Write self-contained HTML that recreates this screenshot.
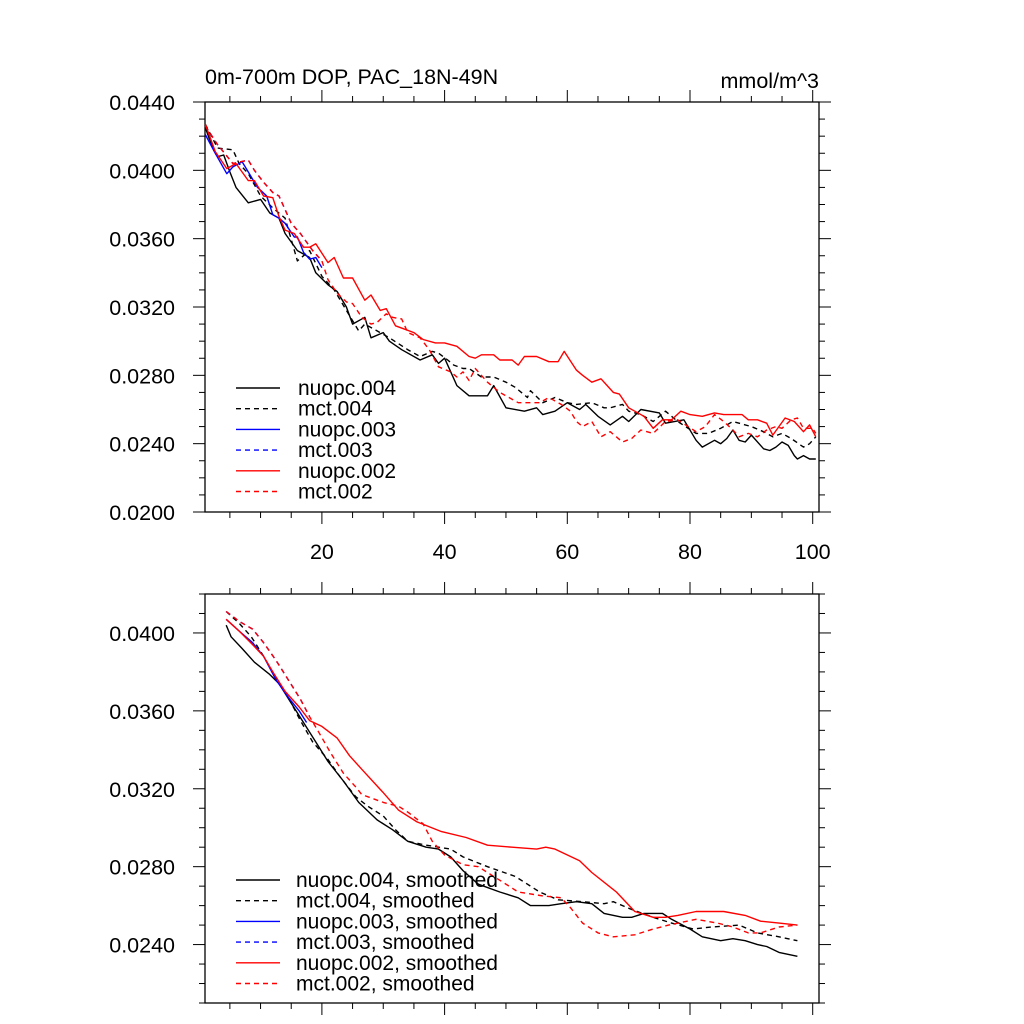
<!DOCTYPE html>
<html><head><meta charset="utf-8"><style>
html,body{margin:0;padding:0;background:#fff;}
svg{display:block;font-family:"Liberation Sans",sans-serif;}
</style></head><body>
<svg id="chart" width="1024" height="1024" viewBox="0 0 1024 1024" xmlns="http://www.w3.org/2000/svg">
<text x="205" y="84" font-size="21.5">0m-700m DOP, PAC_18N-49N</text>
<text x="819" y="88" font-size="21.5" text-anchor="end">mmol/m^3</text>
</svg>
<script>
// ---- top panel data (year, value) ----
const n004Y=[1,2,3,4,5,6,8,10,11.5,13,14,16,18,19,21,22.5,24,25,27,28,30,31,33,36,38,39,40,42,44,47,48,50,53,55,56,58,60,62,63,65,67,69,70,72,75,76,79,81,82,84,85,86,87,88,89,90,92,93,94,95,96,97,97.5,98.5,99.5,100.5];
const n004V=[0.0425,0.0415,0.0408,0.0409,0.0399,0.0390,0.0381,0.0383,0.0375,0.0372,0.0363,0.0353,0.0349,0.0340,0.0333,0.0329,0.0320,0.0310,0.0314,0.0302,0.0305,0.0300,0.0295,0.0289,0.0292,0.0287,0.0290,0.0274,0.0268,0.0268,0.0274,0.0261,0.0259,0.0261,0.0257,0.0259,0.0264,0.0260,0.0263,0.0256,0.0251,0.0256,0.0253,0.0260,0.0258,0.0252,0.0254,0.0242,0.0238,0.0242,0.0240,0.0243,0.0248,0.0242,0.0241,0.0245,0.0237,0.0236,0.0238,0.0241,0.0239,0.0233,0.0231,0.0233,0.0231,0.0231];
const m004Y=[1,3,5.5,6.5,8,10,12,14,16,18,20,22,24,25,26,27,29,31,34,36,38,39,40.5,41.5,43,44,46,48,50,51.5,53.5,54,56,58,60,61.5,64,66,67,69,70,72,74,76,77,78,81,83,85,87,88,90,92,93.5,95,96.5,98.5,99.5,100.5];
const m004V=[0.0427,0.0413,0.0412,0.0404,0.0398,0.0385,0.0378,0.0372,0.0347,0.0353,0.0338,0.0330,0.0318,0.0312,0.0306,0.0310,0.0306,0.0302,0.0295,0.0291,0.0294,0.0293,0.0289,0.0286,0.0284,0.0284,0.0279,0.0279,0.0276,0.0273,0.0267,0.0271,0.0264,0.0267,0.0264,0.0263,0.0264,0.0261,0.0261,0.0263,0.0259,0.0257,0.0253,0.0259,0.0256,0.0253,0.0246,0.0246,0.0249,0.0253,0.0252,0.0250,0.0247,0.0244,0.0246,0.0243,0.0238,0.0240,0.0244];
const n003Y=[1,2.6,4.5,5.5,7,8,9.5,11,12,13,14,15.5,16,17,18,19,20];
const n003V=[0.0421,0.0410,0.0398,0.0402,0.0405,0.0399,0.0390,0.0385,0.0374,0.0372,0.0369,0.0361,0.0361,0.0352,0.0348,0.0349,0.0343];
const n002Y=[1,2.6,4.5,6,7,8,9,10.5,12,13,14,15.5,17,18,19,21,22,23.5,25,27,28,29.5,30.5,32,33.5,35,36.5,38.5,40,42,44,45,46,48,49,51,52,53,55,57,58.5,59.5,61.5,62.5,64,65.5,67.5,68.5,70,71,72.5,74,75.5,77,78.5,80,82,84,85.5,87,88.5,89.5,91,92.5,93.5,95.5,97,98.5,99.5,100.5];
const n002V=[0.0427,0.0411,0.0401,0.0404,0.0399,0.0394,0.0394,0.0385,0.0384,0.0373,0.0365,0.0363,0.0355,0.0355,0.0357,0.0346,0.0349,0.0337,0.0337,0.0324,0.0327,0.0318,0.0319,0.0309,0.0307,0.0305,0.0301,0.0299,0.0299,0.0297,0.0291,0.0290,0.0292,0.0292,0.0289,0.0289,0.0286,0.0291,0.0291,0.0288,0.0288,0.0294,0.0283,0.0280,0.0276,0.0278,0.0270,0.0269,0.0261,0.0259,0.0256,0.0249,0.0254,0.0254,0.0259,0.0257,0.0256,0.0258,0.0257,0.0257,0.0257,0.0254,0.0254,0.0252,0.0245,0.0255,0.0253,0.0247,0.0251,0.0244];
const m002Y=[1,3,5.5,8,9,10.5,12,13,14,15,16.5,17.5,18.5,20,21,22.5,24,25,26.5,28,29,30.5,31.5,33,34,36,37.5,39,41,42,43,44,45,47,49,50.5,52,53.5,55.5,57,59,60.5,61.5,62.5,64,65.5,67,69,70.5,72,74,76,78,81,82.5,84,85.5,87,88,89.5,91,92.5,94,95,96.5,97.5,98.5,100,100.5];
const m002V=[0.0426,0.0415,0.0404,0.0406,0.0400,0.0393,0.0387,0.0385,0.0377,0.0369,0.0363,0.0358,0.0353,0.0347,0.0336,0.0328,0.0323,0.0322,0.0314,0.0310,0.0311,0.0316,0.0314,0.0313,0.0305,0.0302,0.0295,0.0285,0.0282,0.0279,0.0282,0.0277,0.0284,0.0276,0.0270,0.0267,0.0264,0.0264,0.0264,0.0267,0.0263,0.0259,0.0253,0.0250,0.0253,0.0244,0.0247,0.0241,0.0243,0.0248,0.0246,0.0253,0.0254,0.0247,0.0250,0.0257,0.0253,0.0248,0.0244,0.0246,0.0244,0.0248,0.0250,0.0249,0.0254,0.0255,0.0249,0.0249,0.0246];
const m003Y=m002Y.filter(y=>y<=20);
const m003V=m002V.slice(0,m003Y.length);
// ---- bottom panel data (smoothed) ----
const sn004Y=[4.4,5.2,7,9,11.4,13,15,17,19,21,23.5,26,29,31.5,34,37,39,41,43,45.5,49,52,54,57,59,61.5,64,66,69,70.5,72.5,75.5,77,80,82,85,87,89,91,92.5,94.5,97.5];
const sn004V=[0.0404,0.0398,0.0392,0.0385,0.0379,0.0374,0.0364,0.0354,0.0344,0.0334,0.0324,0.0313,0.0304,0.0299,0.0293,0.0290,0.0289,0.0285,0.0278,0.0271,0.0267,0.0264,0.0260,0.0260,0.0261,0.0262,0.0261,0.0256,0.0254,0.0254,0.0256,0.0256,0.0253,0.0248,0.0244,0.0242,0.0243,0.0242,0.0240,0.0239,0.0236,0.0234];
const sm004Y=[4.4,6.5,8.5,10.5,12.5,14.5,16.5,18.5,21,23,25.5,27.5,30,32,34,37,41,43,47,51.5,55.5,58.5,62.5,66,67.5,70.5,74,77,80.5,83.5,88,91,94.5,97.5];
const sm004V=[0.0411,0.0405,0.0398,0.0388,0.0377,0.0367,0.0355,0.0344,0.0335,0.0326,0.0316,0.0311,0.0306,0.0299,0.0293,0.0291,0.0289,0.0285,0.0280,0.0275,0.0267,0.0263,0.0262,0.0261,0.0262,0.0258,0.0254,0.0251,0.0248,0.0249,0.0250,0.0246,0.0244,0.0242];
const sn003Y=[4.4,6.5,8.7,10.5,12.5,14.5,16.3,17.5];
const sn003V=[0.0407,0.0401,0.0395,0.0388,0.0376,0.0367,0.0360,0.0354];
const sn002Y=[4.4,6.5,8.7,10.5,12,14,16.3,18,20,22.5,24.5,26.5,30,32.5,35.5,39.5,43.5,47,51,55,56.5,58,62,64,68,71,74,76,78,81,85.5,89,91.5,94.5,97.5];
const sn002V=[0.0407,0.0401,0.0394,0.0388,0.0380,0.0370,0.0362,0.0355,0.0352,0.0346,0.0337,0.0330,0.0318,0.0309,0.0303,0.0298,0.0295,0.0291,0.0290,0.0289,0.0290,0.0289,0.0283,0.0277,0.0267,0.0257,0.0254,0.0254,0.0255,0.0257,0.0257,0.0255,0.0252,0.0251,0.0250];
const sm002Y=[4.4,6.5,8.7,10.5,12.5,14.5,16.5,18,19.5,21.5,23.5,25.5,26.5,30,32.5,34,36.5,38,40,43,45.5,49.5,52,56,59,60.5,62.5,65,67.5,71,74,76.5,81,84.5,87,89.5,91.5,94.5,97.5];
const sm002V=[0.0411,0.0406,0.0402,0.0395,0.0386,0.0376,0.0366,0.0357,0.0349,0.0338,0.0328,0.0321,0.0317,0.0313,0.0311,0.0308,0.0302,0.0293,0.0286,0.0281,0.0280,0.0272,0.0267,0.0265,0.0264,0.0259,0.0251,0.0246,0.0244,0.0245,0.0248,0.0250,0.0253,0.0251,0.0249,0.0246,0.0246,0.0249,0.0250];
const sm003Y=sm002Y.filter(y=>y<=18);
const sm003V=sm002V.slice(0,sm003Y.length);
// ---- ticks ----
const topYTicks=[0.0200,0.0240,0.0280,0.0320,0.0360,0.0400,0.0440];
const botYTicks=[0.0240,0.0280,0.0320,0.0360,0.0400];
const xTicks=[20,40,60,80,100];
const topLegend=['nuopc.004','mct.004','nuopc.003','mct.003','nuopc.002','mct.002'];
const botLegend=['nuopc.004, smoothed','mct.004, smoothed','nuopc.003, smoothed','mct.003, smoothed','nuopc.002, smoothed','mct.002, smoothed'];

const NS='http://www.w3.org/2000/svg';
const svg=document.getElementById('chart');
function mk(tag,attrs){const e=document.createElementNS(NS,tag);for(const k in attrs)e.setAttribute(k,attrs[k]);svg.appendChild(e);return e;}
const L=205,R=819;
function xs(v){return 812.7+(v-100)*6.135;}
const panels=[
 {top:102,bot:512,min:0.020,max:0.044,yt:topYTicks,label:true,name:'top'},
 {top:594,bot:1003,min:0.021,max:0.042,yt:botYTicks,label:false,name:'bottom'}];
panels.forEach(p=>{
 p.ys=v=>p.bot-(v-p.min)/(p.max-p.min)*(p.bot-p.top);
 const fr=mk('rect',{x:L,y:p.top,width:R-L,height:p.bot-p.top,fill:'none',stroke:'#000','stroke-width':1.3});
 
 
 for(let v=5;v<=100;v+=5){
  const X=xs(v),len=(v%20===0)?12:6;
  [[p.bot,p.bot+len],[p.top,p.top-len]].forEach(a=>{
   const t=mk('line',{x1:X,x2:X,y1:a[0],y2:a[1],stroke:'#000','stroke-width':1});
   
   
  });
 }
 for(let k=Math.ceil(p.min*1000-1e-6);k<=Math.floor(p.max*1000+1e-6);k++){
  const v=k/1000,Y=p.ys(v),len=(k%4===0)?12:6;
  [[L,L-len],[R,R+len]].forEach(a=>{
   const t=mk('line',{x1:a[0],x2:a[1],y1:Y,y2:Y,stroke:'#000','stroke-width':1});
   
   
  });
 }
 p.yt.forEach(v=>{
  const t=mk('text',{x:175,y:p.ys(v)+8,'font-size':21.5,'text-anchor':'end'});
  t.textContent=v.toFixed(4);
  
  
 });
 if(p.label) xTicks.forEach(v=>{
  const t=mk('text',{x:xs(v),y:p.bot+47,'font-size':21.5,'text-anchor':'middle'});
  t.textContent=v;
  
  
 });
});
function series(p,X,V,color,dash,name){
 const pts=X.map((x,i)=>xs(x).toFixed(1)+','+p.ys(V[i]).toFixed(1)).join(' ');
 const a={points:pts,fill:'none',stroke:color,'stroke-width':1.4,'stroke-linejoin':'round'};
 if(dash)a['stroke-dasharray']='5,4';
 const e=mk('polyline',a);
 
 
}
const T=panels[0],B=panels[1];
series(T,n004Y,n004V,'#000',false,'series-nuopc-004');
series(T,m004Y,m004V,'#000',true,'series-mct-004');
series(T,n003Y,n003V,'#00f',false,'series-nuopc-003');
series(T,m003Y,m003V,'#00f',true,'series-mct-003');
series(T,n002Y,n002V,'#f00',false,'series-nuopc-002');
series(T,m002Y,m002V,'#f00',true,'series-mct-002');
series(B,sn004Y,sn004V,'#000',false,'series-nuopc-004-smoothed');
series(B,sm004Y,sm004V,'#000',true,'series-mct-004-smoothed');
series(B,sn003Y,sn003V,'#00f',false,'series-nuopc-003-smoothed');
series(B,sm003Y,sm003V,'#00f',true,'series-mct-003-smoothed');
series(B,sn002Y,sn002V,'#f00',false,'series-nuopc-002-smoothed');
series(B,sm002Y,sm002V,'#f00',true,'series-mct-002-smoothed');
const cols=['#000','#000','#00f','#00f','#f00','#f00'];
function legend(labels,y0,dy,tx){
 labels.forEach((s,i)=>{
  const y=y0+i*dy;
  const a={x1:236,x2:280,y1:y,y2:y,stroke:cols[i],'stroke-width':1.4};
  if(i%2)a['stroke-dasharray']='5,4';
  const l=mk('line',a);
  
  
  const t=mk('text',{x:tx,y:y+7,'font-size':21});
  t.textContent=s;
  
  
 });
}
legend(topLegend,388,20.7,298);
legend(botLegend,880,20.7,296);
</script>
</body></html>
